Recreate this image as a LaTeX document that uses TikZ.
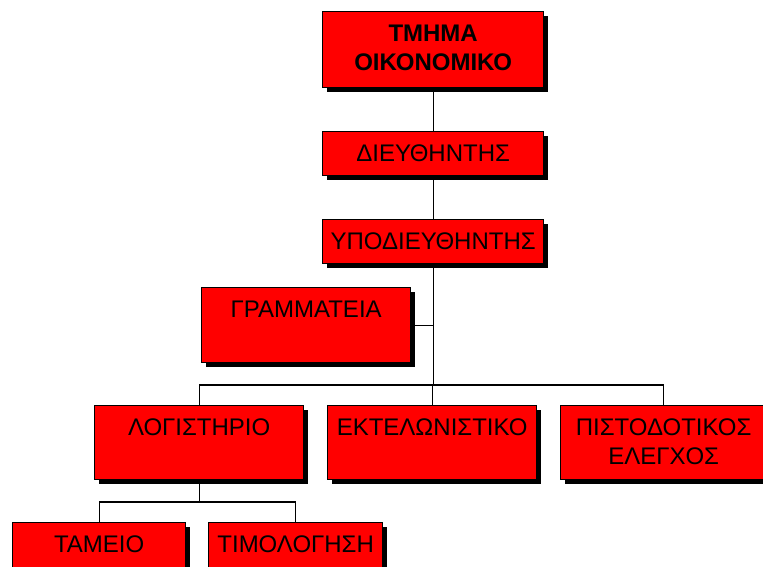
\documentclass[tikz,border=0pt]{standalone}
\usepackage{fontspec}
\setmainfont{Liberation Sans}
\usetikzlibrary{shadows}
\definecolor{boxred}{RGB}{255,0,0}
\tikzset{
  orgbox/.style={draw=black, line width=1.3pt, fill=boxred, anchor=north west,
    inner sep=0pt,
    general shadow={fill=black, shadow xshift=4pt, shadow yshift=-4pt}},
  orgtext/.style={anchor=north, inner sep=0pt, align=center,
    font=\fontsize{24}{28.5}\selectfont},
  conn/.style={draw=black, line width=1.1pt}
}
% \unitbox{name}{x}{y}{width}{height}{text}
\newcommand\unitbox[6]{%
  \node[orgbox, minimum width=#4, minimum height=#5] (#1) at (#2,#3) {};
  \node[orgtext] (#1-t) at ([yshift=-14pt]#1.north) {#6};
}
\begin{document}
\begin{tikzpicture}[x=1pt, y=-1pt]
  \useasboundingbox (0,0) rectangle (763,567);
  \coordinate (bar) at (0,385);
  \coordinate (barb) at (0,502);

  % boxes
  \unitbox{top}{322}{11}{221pt}{76pt}{\bfseries ΤΜΗΜΑ\\\bfseries ΟΙΚΟΝΟΜΙΚΟ}
  \unitbox{dir}{322}{131}{221pt}{44pt}{ΔΙΕΥΘΗΝΤΗΣ}
  \unitbox{sub}{322}{219}{221pt}{44pt}{ΥΠΟΔΙΕΥΘΗΝΤΗΣ}
  \unitbox{sec}{201}{287}{209pt}{75pt}{ΓΡΑΜΜΑΤΕΙΑ}
  \unitbox{log}{94}{405}{209pt}{74pt}{ΛΟΓΙΣΤΗΡΙΟ}
  \unitbox{ekt}{327}{405}{209pt}{74pt}{ΕΚΤΕΛΩΝΙΣΤΙΚΟ}
  \unitbox{pis}{560}{405}{206pt}{74pt}{ΠΙΣΤΟΔΟΤΙΚΟΣ\\ΕΛΕΓΧΟΣ}
  \unitbox{tam}{12}{522}{173pt}{74pt}{ΤΑΜΕΙΟ}
  \unitbox{tim}{208}{522}{174pt}{74pt}{ΤΙΜΟΛΟΓΗΣΗ}

  % connectors
  \draw[conn] (top.south) -- (dir.north);
  \draw[conn] (dir.south) -- (sub.north);
  \draw[conn] (sub.south) -- (sub.south |- bar);
  \draw[conn] (sec.east) -- (sec.east -| sub.south);
  \draw[conn] (log.north) |- (bar -| pis.north) -- (pis.north);
  \draw[conn] (ekt.north) -- (ekt.north |- bar);
  \draw[conn] (log.south) -- (log.south |- barb);
  \draw[conn] (tam.north) |- (barb -| tim.north) -- (tim.north);
\end{tikzpicture}
\end{document}
